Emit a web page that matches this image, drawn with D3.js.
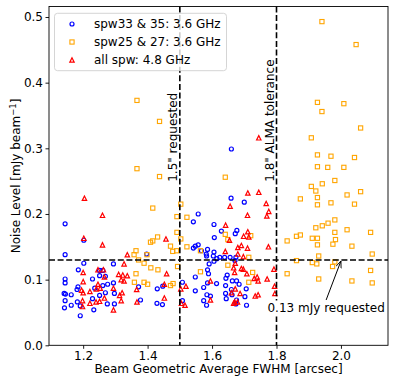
<!DOCTYPE html>
<html>
<head>
<meta charset="utf-8">
<script src="https://cdn.jsdelivr.net/npm/d3@7"></script>
<style>
  body { margin: 0; background: #fff; }
  svg { font-family: "DejaVu Sans", sans-serif; }
</style>
</head>
<body>
<div id="chart"></div>
<script>
// beam FWHM [arcsec], noise [mJy/beam]
let spw33 = [
  [1.144,0.185],[1.202,0.160],[1.144,0.138],[1.202,0.125],[1.294,0.124],[1.397,0.139],
  [1.185,0.115],[1.251,0.114],[1.261,0.114],[1.144,0.101],[1.144,0.095],[1.251,0.106],
  [1.269,0.105],[1.229,0.101],[1.294,0.095],[1.276,0.093],[1.261,0.091],[1.184,0.089],
  [1.181,0.085],[1.236,0.087],[1.141,0.079],[1.145,0.078],[1.163,0.077],[1.251,0.076],
  [1.269,0.080],[1.297,0.079],[1.144,0.068],[1.182,0.066],[1.229,0.071],[1.163,0.061],
  [1.191,0.060],[1.142,0.057],[1.275,0.063],[1.297,0.063],[1.233,0.054],[1.191,0.045],
  [1.430,0.086],[1.446,0.062],[1.429,0.064],[1.378,0.069],[1.372,0.089],[1.447,0.090],
  [1.660,0.299],[1.659,0.224],[1.700,0.218],[1.557,0.200],[1.542,0.188],[1.606,0.184],
  [1.629,0.174],[1.677,0.175],[1.672,0.170],[1.607,0.164],[1.557,0.153],[1.548,0.151],
  [1.542,0.148],[1.586,0.146],[1.567,0.144],[1.606,0.142],[1.582,0.139],[1.583,0.136],
  [1.604,0.136],[1.624,0.134],[1.639,0.134],[1.656,0.134],[1.674,0.134],[1.671,0.129],
  [1.606,0.128],[1.615,0.132],[1.591,0.124],[1.586,0.115],[1.548,0.104],[1.589,0.109],
  [1.647,0.107],[1.643,0.102],[1.508,0.096],[1.586,0.095],[1.614,0.094],[1.642,0.091],
  [1.663,0.098],[1.676,0.098],[1.684,0.093],[1.574,0.088],[1.660,0.085],[1.706,0.086],
  [1.548,0.083],[1.595,0.075],[1.584,0.077],[1.642,0.079],[1.662,0.077],[1.702,0.074],
  [1.574,0.068],[1.644,0.071],[1.676,0.069],[1.508,0.068],[1.583,0.061],[1.674,0.063],
  [1.707,0.061]
];
let spw25 = [
  [1.367,0.373],[1.437,0.341],[1.367,0.269],[1.437,0.257],[1.641,0.256],[1.416,0.209],
  [1.503,0.215],[1.491,0.196],[1.522,0.195],[1.491,0.172],[1.503,0.162],[1.431,0.165],
  [1.416,0.159],[1.409,0.157],[1.364,0.144],[1.358,0.138],[1.398,0.138],[1.471,0.151],
  [1.478,0.143],[1.490,0.144],[1.522,0.150],[1.564,0.144],[1.372,0.130],[1.389,0.125],
  [1.410,0.118],[1.432,0.115],[1.493,0.120],[1.364,0.109],[1.359,0.096],[1.389,0.096],
  [1.400,0.093],[1.471,0.091],[1.479,0.094],[1.641,0.169],[1.649,0.161],[1.720,0.167],
  [1.714,0.134],[1.649,0.122],[1.564,0.112],[1.726,0.111],[1.714,0.096],
  [1.941,0.493],[2.047,0.458],[1.927,0.370],[2.009,0.368],[1.941,0.356],[2.061,0.331],
  [1.908,0.316],[1.927,0.290],[1.969,0.288],[2.042,0.286],[1.927,0.272],[1.959,0.271],
  [2.009,0.271],[1.942,0.246],[1.981,0.251],[1.908,0.242],[1.922,0.235],[2.061,0.234],
  [2.019,0.229],[1.874,0.223],[1.927,0.225],[1.969,0.217],[1.927,0.214],[2.042,0.215],
  [1.981,0.191],[1.960,0.186],[1.942,0.182],[1.922,0.179],[2.019,0.176],[1.874,0.168],
  [1.862,0.166],[1.981,0.172],[2.092,0.172],[1.833,0.159],[1.911,0.163],[1.927,0.163],
  [1.983,0.161],[1.927,0.153],[1.975,0.154],[2.034,0.151],[2.097,0.139],[1.931,0.136],
  [1.862,0.129],[1.911,0.126],[1.925,0.124],[1.981,0.127],[1.974,0.120],[2.092,0.114],
  [1.833,0.109],[1.931,0.101],[2.034,0.098],[2.097,0.095]
];
let allSpw = [
  [1.204,0.224],[1.260,0.198],[1.202,0.163],[1.260,0.153],[1.337,0.138],[1.327,0.124],
  [1.246,0.115],[1.263,0.115],[1.200,0.111],[1.310,0.108],[1.323,0.107],[1.337,0.106],
  [1.318,0.100],[1.327,0.098],[1.200,0.097],[1.246,0.093],[1.253,0.087],[1.241,0.086],
  [1.266,0.104],[1.195,0.084],[1.200,0.080],[1.221,0.082],[1.294,0.087],[1.313,0.076],
  [1.321,0.080],[1.198,0.068],[1.198,0.059],[1.221,0.064],[1.240,0.066],[1.251,0.067],
  [1.266,0.072],[1.318,0.068],[1.294,0.054],[1.366,0.085],[1.367,0.066],[1.452,0.072],
  [1.457,0.162],[1.459,0.109],[1.452,0.093],[1.503,0.086],[1.505,0.064],[1.516,0.061],
  [1.519,0.090],
  [1.745,0.316],[1.711,0.232],[1.745,0.233],[1.656,0.212],[1.768,0.216],[1.710,0.198],
  [1.776,0.204],[1.770,0.197],[1.642,0.183],[1.711,0.173],[1.698,0.166],[1.714,0.165],
  [1.654,0.160],[1.691,0.152],[1.680,0.149],[1.710,0.148],[1.775,0.150],[1.641,0.143],
  [1.680,0.139],[1.697,0.135],[1.672,0.125],[1.691,0.117],[1.697,0.116],[1.667,0.118],
  [1.670,0.111],[1.708,0.109],[1.731,0.102],[1.740,0.104],[1.743,0.098],[1.792,0.116],
  [1.794,0.090],[1.595,0.098],[1.672,0.086],[1.660,0.080],[1.687,0.079],[1.734,0.075],
  [1.743,0.077],[1.670,0.066],[1.679,0.066],[1.667,0.064],[1.771,0.101],[1.795,0.079],
  [1.595,0.069]
];
let legendLabels = ["spw33 & 35: 3.6 GHz", "spw25 & 27: 3.6 GHz", "all spw: 4.8 GHz"];
let xTicks = [1.2, 1.4, 1.6, 1.8, 2.0];
let yTicks = [0.0, 0.1, 0.2, 0.3, 0.4, 0.5];
let beamRequested = 1.5, beamTolerance = 1.8, noiseRequested = 0.13;

let width = 396, height = 384;
let margin = {top: 6.5, right: 8, bottom: 38.7, left: 49};
let w = width - margin.left - margin.right;
let h = height - margin.top - margin.bottom;
let fs = 12;

let svg = d3.select("#chart")
    .append("svg")
    .attr("width", width)
    .attr("height", height)
    .append("g")
    .attr("transform", `translate(${margin.left}, ${margin.top})`);

let x = d3.scaleLinear().domain([1.094, 2.146]).range([0, w]);
let y = d3.scaleLinear().domain([0, 0.516]).range([h, 0]);

let xAxis = svg.append("g")
    .attr("transform", `translate(0, ${h})`)
    .call(d3.axisBottom(x).tickValues(xTicks).tickFormat(d3.format(".1f")).tickSize(3.5).tickPadding(2.5));
let yAxis = svg.append("g")
    .call(d3.axisLeft(y).tickValues(yTicks).tickFormat(d3.format(".1f")).tickSize(3.5).tickPadding(2.5));
[xAxis, yAxis].forEach(a => {
    a.select(".domain").remove();
    a.selectAll("line").attr("stroke", "#000").attr("stroke-width", 0.9);
    a.selectAll("text").attr("font-size", fs).attr("fill", "#000")
        .attr("font-family", "DejaVu Sans, sans-serif");
});

// markers
function circle(g, cx, cy) {
    g.append("circle").attr("cx", cx).attr("cy", cy).attr("r", 2.0)
        .attr("fill", "none").attr("stroke", "#0000ff").attr("stroke-width", 1.2);
}
function square(g, cx, cy) {
    g.append("rect").attr("x", cx - 2.1).attr("y", cy - 2.1).attr("width", 4.2).attr("height", 4.2)
        .attr("fill", "none").attr("stroke", "#ffa500").attr("stroke-width", 1.1);
}
function triangle(g, cx, cy) {
    let s = 2.2;
    g.append("path")
        .attr("d", `M${cx},${cy - s}L${cx - s},${cy + s}L${cx + s},${cy + s}Z`)
        .attr("fill", "none").attr("stroke", "#ff0000").attr("stroke-width", 1.2);
}

let pts = svg.append("g");
spw33.forEach(d => circle(pts, x(d[0]), y(d[1])));
spw25.forEach(d => square(pts, x(d[0]), y(d[1])));
allSpw.forEach(d => triangle(pts, x(d[0]), y(d[1])));

// reference lines
let dash = "6,2.6";
[beamRequested, beamTolerance].forEach(v => {
    svg.append("line")
        .attr("x1", x(v)).attr("x2", x(v)).attr("y1", 0).attr("y2", h)
        .attr("stroke", "#000").attr("stroke-width", 1.6).attr("stroke-dasharray", dash);
});
svg.append("line")
    .attr("x1", 0).attr("x2", w).attr("y1", y(noiseRequested)).attr("y2", y(noiseRequested))
    .attr("stroke", "#000").attr("stroke-width", 1.6).attr("stroke-dasharray", dash);

svg.append("text")
    .attr("transform", `translate(${x(1.491)}, ${y(0.249)}) rotate(-90)`)
    .attr("font-size", fs)
    .text("1.5\" requested");
svg.append("text")
    .attr("transform", `translate(${x(1.791)}, ${y(0.249)}) rotate(-90)`)
    .attr("font-size", fs)
    .text("1.8\" ALMA tolerance");

// annotation (text sits on a white box)
svg.append("defs").append("marker")
    .attr("id", "head")
    .attr("viewBox", "0 0 10 10")
    .attr("refX", 10).attr("refY", 5)
    .attr("markerWidth", 7).attr("markerHeight", 7)
    .attr("orient", "auto")
    .append("path")
    .attr("d", "M0,1L10,5L0,9")
    .attr("fill", "none").attr("stroke", "#000").attr("stroke-width", 1.2);
svg.append("line")
    .attr("x1", x(1.954)).attr("y1", y(0.069))
    .attr("x2", x(2.0)).attr("y2", y(noiseRequested) + 1)
    .attr("stroke", "#000").attr("stroke-width", 1)
    .attr("marker-end", "url(#head)");
let annBox = svg.append("rect").attr("fill", "#fff");
let ann = svg.append("text")
    .attr("x", x(1.954)).attr("y", y(0.05))
    .attr("text-anchor", "middle")
    .attr("font-size", fs)
    .text("0.13 mJy requested");
let bb = ann.node().getBBox();
annBox.attr("x", bb.x - 2).attr("y", bb.y - 1).attr("width", bb.width + 4).attr("height", bb.height + 2);

// frame
svg.append("rect")
    .attr("width", w).attr("height", h)
    .attr("fill", "none").attr("stroke", "#000").attr("stroke-width", 0.9);

// legend
let leg = svg.append("g").attr("transform", "translate(5.5, 6.8)");
leg.append("rect")
    .attr("width", 172).attr("height", 57.4).attr("rx", 3)
    .attr("fill", "#fff").attr("fill-opacity", 0.8)
    .attr("stroke", "#d0d0d0").attr("stroke-width", 0.9);
let drawers = [circle, square, triangle];
legendLabels.forEach((lab, i) => {
    let cy = 10.7 + i * 18;
    drawers[i](leg, 17.5, cy);
    leg.append("text")
        .attr("x", 39.5).attr("y", cy + 4.3)
        .attr("font-size", fs)
        .text(lab);
});

// axis labels
svg.append("text")
    .attr("x", w / 2).attr("y", h + 28)
    .attr("text-anchor", "middle")
    .attr("font-size", fs)
    .text("Beam Geometric Average FWHM [arcsec]");
let yl = svg.append("text")
    .attr("transform", `translate(-29, ${h / 2}) rotate(-90)`)
    .attr("text-anchor", "middle")
    .attr("font-size", fs);
yl.append("tspan").text("Noise Level [mJy beam");
yl.append("tspan").attr("dy", -4.5).attr("font-size", 8.5).text("\u22121");
yl.append("tspan").attr("dy", 4.5).text("]");
</script>
</body>
</html>
